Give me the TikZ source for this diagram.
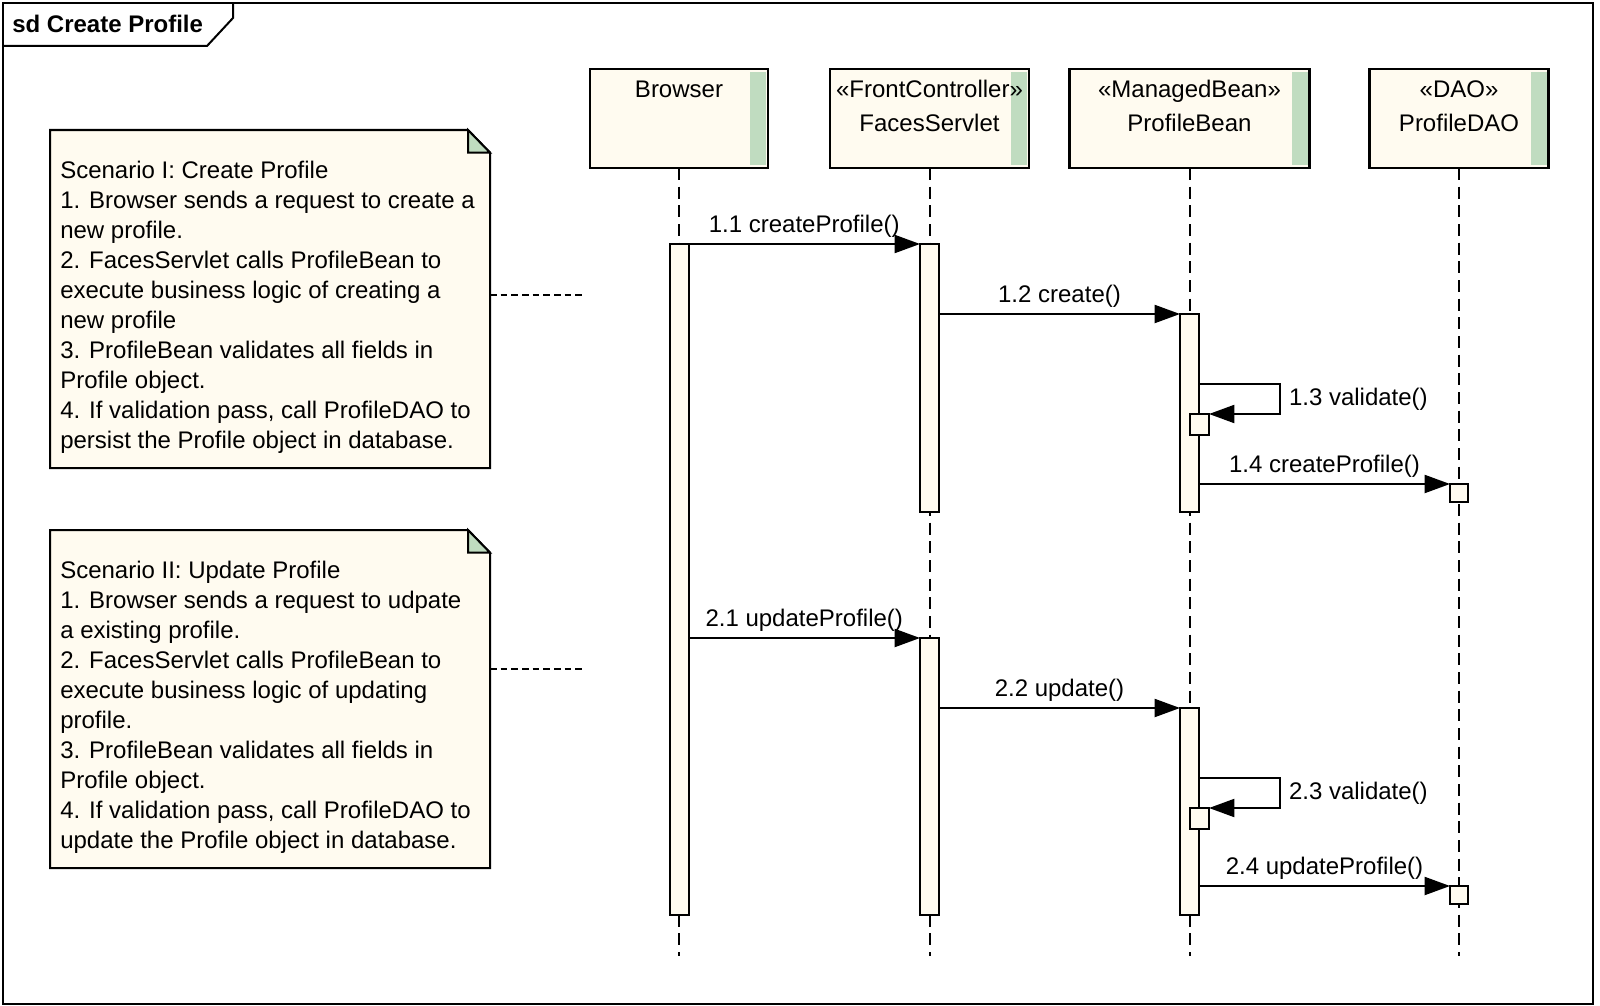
\documentclass[tikz,border=0pt]{standalone}
\usepackage{fontspec}
\setmainfont{Liberation Sans}
\usetikzlibrary{arrows.meta}
\definecolor{cream}{RGB}{255,251,240}
\definecolor{barfill}{RGB}{192,220,192}

\begin{document}
\begin{tikzpicture}[x=0.75pt, y=-0.75pt,
      txt/.style = {font=\fontsize{18}{22.5}\selectfont},
 lifehead/.style = {draw, line width=2.2pt, fill=cream,
      minimum width=#1, minimum height=74.25pt,
      inner sep=0pt, outer sep=0pt,
      path picture={\fill[barfill]
        ([xshift=-13.5pt,yshift=-2.5pt]path picture bounding box.north east)
        rectangle ([xshift=-1.5pt,yshift=2pt]path picture bounding box.south east);}},
  headtxt/.style = {font=\fontsize{18}{25.5}\selectfont,
      anchor=north, align=center, inner sep=0pt, yshift=-8.5pt},
 lifeline/.style = {line width=1.5pt, dash pattern=on 9pt off 5pt},
   actbar/.style = {draw, line width=1.5pt, fill=cream, anchor=north,
      minimum width=14.25pt, minimum height=#1,
      inner sep=0pt, outer sep=0pt},
  selfbox/.style = {draw, line width=1.5pt, fill=cream, anchor=north,
      minimum width=14.25pt, minimum height=15.75pt,
      inner sep=0pt, outer sep=0pt},
   daobox/.style = {draw, line width=1.5pt, fill=cream, anchor=north west,
      minimum size=13.5pt, inner sep=0pt, outer sep=0pt},
      msg/.style = {line width=1.5pt, -{Triangle[length=19pt,width=13.5pt]}},
      lbl/.style = {txt, above, inner sep=4pt},
  selflbl/.style = {txt, right, inner sep=6pt},
  notebox/.style = {minimum width=330pt, minimum height=253.5pt,
      inner sep=0pt, outer sep=0pt},
  notetxt/.style = {txt, anchor=north west, align=left, inner sep=0pt},
 notelink/.style = {line width=1pt, dash pattern=on 5pt off 3pt}
                    ]
\useasboundingbox (0,0) rectangle (1600,1006);
% frame
\draw[line width=1.5pt] (3,3) rectangle (1593,1004);
\draw[line width=1.5pt] (3,46) -- (207,46) -- (233,18) -- (233,3);
\node(title) [txt, font=\fontsize{18}{22.5}\selectfont\bfseries,
      anchor=west, inner sep=0pt] at (12,24) {sd Create Profile};
%
\node(browser) [lifehead=133.5pt,
      label={[headtxt]north:Browser}] at (679,118.5) {};
\node(faces) [lifehead=149.25pt,
      label={[headtxt]north:{«FrontController»\\FacesServlet}}] at (929.5,118.5) {};
\node(bean) [lifehead=180pt,
      label={[headtxt]north:{«ManagedBean»\\ProfileBean}}] at (1189.5,118.5) {};
\node(dao) [lifehead=134.25pt,
      label={[headtxt]north:{«DAO»\\ProfileDAO}}] at (1459,118.5) {};
\coordinate (lifeend) at (0,956);
\foreach \h in {browser,faces,bean,dao}
  \draw[lifeline] (\h.south) -- (\h.south |- lifeend);
%
\node(actB)  [actbar=503.25pt] at (679,244) {};
\node(actF1) [actbar=201pt]    at (929.5,244) {};
\node(actF2) [actbar=207.75pt] at (929.5,638) {};
\node(actP1) [actbar=148.5pt]  at (1189.5,314) {};
\node(actP2) [actbar=155.25pt] at (1189.5,708) {};
\node(self1) [selfbox] at (1199.5,414) {};
\node(self2) [selfbox] at (1199.5,808) {};
\node(dao1)  [daobox]  at (1450,484) {};
\node(dao2)  [daobox]  at (1450,886) {};
%
\path (actB.north east) edge[msg] node[lbl] {1.1 createProfile()} (actF1.north west)
      (actF1.east |- actP1.north) edge[msg] node[lbl] {1.2 create()} (actP1.north west)
      (actP1.east |- dao1.north) edge[msg] node[lbl] {1.4 createProfile()} (dao1.north west)
      (actB.east |- actF2.north) edge[msg] node[lbl] {2.1 updateProfile()} (actF2.north west)
      (actF2.east |- actP2.north) edge[msg] node[lbl] {2.2 update()} (actP2.north west)
      (actP2.east |- dao2.north) edge[msg] node[lbl] {2.4 updateProfile()} (dao2.north west);
\coordinate (turn1) at (1280,384);
\coordinate (turn2) at (1280,778);
\draw[msg] (actP1.east |- turn1) -- (turn1)
      |- node[selflbl, pos=0.25] {1.3 validate()} (self1.north east);
\draw[msg] (actP2.east |- turn2) -- (turn2)
      |- node[selflbl, pos=0.25] {2.3 validate()} (self2.north east);
%
\node(note1) [notebox] at (270,299) {};
\node(note2) [notebox] at (270,699) {};
\foreach \n in {note1,note2} {
  \filldraw[line width=1.5pt, fill=cream] (\n.south west) -- (\n.north west)
        -- ([xshift=-16.5pt]\n.north east) -- ([yshift=-17pt]\n.north east)
        -- (\n.south east) -- cycle;
  \filldraw[line width=1.5pt, fill=barfill] ([xshift=-16.5pt]\n.north east)
        -- ([xshift=-16.5pt,yshift=-17pt]\n.north east)
        -- ([yshift=-17pt]\n.north east) -- cycle;
}
\node(note1txt) [notetxt] at ([shift={(7.5pt,-23pt)}]note1.north west)
      {Scenario I: Create Profile\\
       1. Browser sends a request to create a\\
       new profile.\\
       2. FacesServlet calls ProfileBean to\\
       execute business logic of creating a\\
       new profile\\
       3. ProfileBean validates all fields in\\
       Profile object.\\
       4. If validation pass, call ProfileDAO to\\
       persist the Profile object in database.};
\node(note2txt) [notetxt] at ([shift={(7.5pt,-23pt)}]note2.north west)
      {Scenario II: Update Profile\\
       1. Browser sends a request to udpate\\
       a existing profile.\\
       2. FacesServlet calls ProfileBean to\\
       execute business logic of updating\\
       profile.\\
       3. ProfileBean validates all fields in\\
       Profile object.\\
       4. If validation pass, call ProfileDAO to\\
       update the Profile object in database.};
\coordinate (link1) at (585,295);
\coordinate (link2) at (585,669);
\draw[notelink] (note1.east |- link1) -- (link1);
\draw[notelink] (note2.east |- link2) -- (link2);
\end{tikzpicture}
\end{document}
